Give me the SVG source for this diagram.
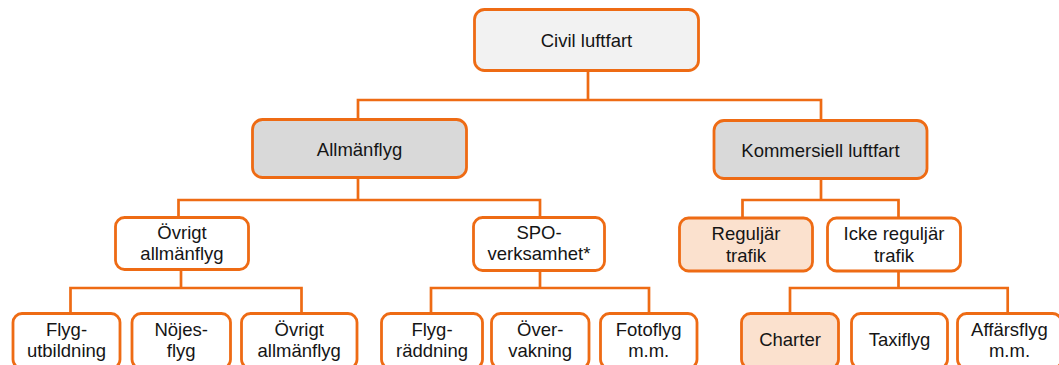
<svg xmlns="http://www.w3.org/2000/svg" width="1059" height="365" viewBox="0 0 1059 365">
<style>
.box{stroke:#EE6B14;stroke-width:2.8;}
.w{fill:#FFFFFF;}
.l1{fill:#F2F2F2;}
.l2{fill:#D9D9D9;}
.pe{fill:#FBE1CE;}
.conn{fill:none;stroke:#EE6B14;stroke-width:2.7;}
text{font-family:"Liberation Sans",Arial,sans-serif;font-size:18.5px;fill:#151515;text-anchor:middle;}
</style>
<rect width="1059" height="365" fill="#FFFFFF"/>
<g id="connectors" class="conn">
<path d="M588 71 V100 M358 119 V100 H821 V120"/>
<path d="M358 178 V200 M178.5 217 V200 H540 V217"/>
<path d="M821 179 V200 M742.5 217 V200 H898.5 V217"/>
<path d="M181 270 V288 M70.5 313 V288 H301.5 V313"/>
<path d="M540 271 V288 M431 313 V288 H649 V313"/>
<path d="M898.5 271 V288 M790 313 V288 H1007.7 V313"/>
</g>
<g id="civil-luftfart"><rect class="box l1" x="474.5" y="9.5" width="224" height="61" rx="10"/><text x="586.5" y="46.5">Civil luftfart</text></g>
<g id="allmanflyg"><rect class="box l2" x="252.5" y="119.5" width="214" height="58" rx="10"/><text x="359.5" y="155.5">Allmänflyg</text></g>
<g id="kommersiell"><rect class="box l2" x="714" y="120.5" width="213" height="58" rx="10"/><text x="820.5" y="156.5">Kommersiell luftfart</text></g>
<g id="ovrigt-allmanflyg"><rect class="box w" x="115.5" y="217.5" width="133" height="52" rx="9"/><text x="182" y="238.5">Övrigt</text><text x="182" y="260.2">allmänflyg</text></g>
<g id="spo"><rect class="box w" x="473.5" y="217.5" width="131" height="53" rx="9"/><text x="539" y="238.5">SPO-</text><text x="539" y="260.2">verksamhet*</text></g>
<g id="regulj-trafik"><rect class="box pe" x="679.5" y="218" width="133" height="53" rx="9"/><text x="746" y="240">Reguljär</text><text x="746" y="261.7">trafik</text></g>
<g id="icke-regulj-trafik"><rect class="box w" x="827.5" y="218" width="133" height="53" rx="9"/><text x="894" y="240">Icke reguljär</text><text x="894" y="261.7">trafik</text></g>
<g id="flygutbildning"><rect class="box w" x="13" y="313.5" width="107" height="55" rx="9"/><text x="66.5" y="335.5">Flyg-</text><text x="66.5" y="357.2">utbildning</text></g>
<g id="nojesflyg"><rect class="box w" x="132" y="313.5" width="98.5" height="55" rx="9"/><text x="181.2" y="335.5">Nöjes-</text><text x="181.2" y="357.2">flyg</text></g>
<g id="ovrigt-allmanflyg-2"><rect class="box w" x="241.5" y="313.5" width="115.5" height="55" rx="9"/><text x="299.2" y="335.5">Övrigt</text><text x="299.2" y="357.2">allmänflyg</text></g>
<g id="flygraddning"><rect class="box w" x="381.5" y="313.5" width="101" height="55" rx="9"/><text x="432" y="335.5">Flyg-</text><text x="432" y="357.2">räddning</text></g>
<g id="overvakning"><rect class="box w" x="491.5" y="313.5" width="97.5" height="55" rx="9"/><text x="540.2" y="335.5">Över-</text><text x="540.2" y="357.2">vakning</text></g>
<g id="fotoflyg"><rect class="box w" x="600.5" y="313.5" width="96.5" height="55" rx="9"/><text x="648.7" y="335.5">Fotoflyg</text><text x="648.7" y="357.2">m.m.</text></g>
<g id="charter"><rect class="box pe" x="741.5" y="313.5" width="97" height="55" rx="9"/><text x="790" y="346.3">Charter</text></g>
<g id="taxiflyg"><rect class="box w" x="851.5" y="313.5" width="96" height="55" rx="9"/><text x="899.5" y="346.3">Taxiflyg</text></g>
<g id="affarsflyg"><rect class="box w" x="957.5" y="313.5" width="104" height="55" rx="9"/><text x="1009.5" y="335.5">Affärsflyg</text><text x="1009.5" y="357.2">m.m.</text></g>
</svg>
